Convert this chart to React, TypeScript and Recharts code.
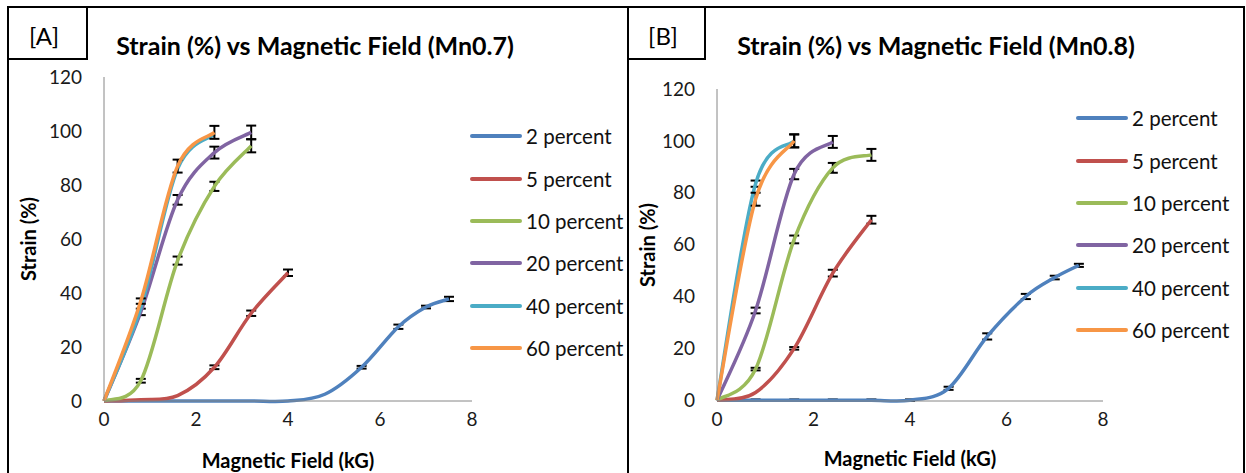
import { LineChart, Line, XAxis, YAxis, ErrorBar, Legend } from 'recharts';

// field steps (kG) shared by the measurements
const fieldSteps = [0, 0.8, 1.6, 2.4, 3.2, 4.0, 4.8, 5.6, 6.4, 7.0, 7.5];

const seriesNames = ['2 percent', '5 percent', '10 percent', '20 percent', '40 percent', '60 percent'];
const seriesColors = ['#4F81BD', '#C0504D', '#9BBB59', '#8064A2', '#4BACC6', '#F79646'];

// Mn0.7 strain values (%) and error half-widths, null = no bar drawn
const mn07Strain = [
  [0, 0, 0, 0, 0, 0, 2.5, 12.5, 27.5, 34.8, 37.8],
  [0, 0.5, 2, 12.5, 32.5, 47.5],
  [0, 7.5, 52, 79.5, 94.5],
  [0, 33, 74.5, 92, 99.5],
  [0, 34.5, 86, 98.8],
  [0, 37, 87, 99.5],
];
const mn07Err = [
  [null, null, null, null, null, null, null, 0.5, 0.8, 0.5, 0.8],
  [null, null, null, 0.7, 1, 1.2],
  [null, 0.7, 1.5, 1.7, 2.4],
  [null, 1.2, 1.8, 2.2, 2.5],
  [null, null, null, null],
  [null, 1, 2.4, 2.4],
];

// Mn0.8
const mn08Strain = [
  [0, 0, 0, 0, 0, 0, 4.6, 24.6, 40, 47.3, 52],
  [0, 3, 20, 49, 69.6],
  [0, 12, 62, 89.6, 94.6],
  [0, 34.6, 87.2, 99.6],
  [0, 83.5, 100],
  [0, 77.5, 100],
];
const mn08Err = [
  [null, 0.3, 0.3, 0.3, 0.3, 0.3, 0.6, 1.2, 1, 0.7, 0.6],
  [null, null, 0.5, 1.3, 1.5],
  [null, 0.5, 1.5, 1.9, 2.3],
  [null, 1.1, 2, 2.3],
  [null, 1.2, 2.5],
  [null, 2.5, 2.5],
];

const yTicks = [0, 20, 40, 60, 80, 100, 120];
const xTicks = [0, 2, 4, 6, 8];

// Excel-like smoothed line (Catmull-Rom through the points)
function excelCurve(context: any) {
  let pts: number[][] = [];
  return {
    areaStart() {},
    areaEnd() {},
    lineStart() {
      pts = [];
    },
    point(x: number, y: number) {
      pts.push([+x, +y]);
    },
    lineEnd() {
      if (!pts.length) return;
      context.moveTo(pts[0][0], pts[0][1]);
      for (let i = 0; i < pts.length - 1; i++) {
        const p0 = pts[i - 1] || pts[i];
        const p1 = pts[i];
        const p2 = pts[i + 1];
        const p3 = pts[i + 2] || p2;
        context.bezierCurveTo(
          p1[0] + (p2[0] - p0[0]) / 6,
          p1[1] + (p2[1] - p0[1]) / 6,
          p2[0] - (p3[0] - p1[0]) / 6,
          p2[1] - (p3[1] - p1[1]) / 6,
          p2[0],
          p2[1]
        );
      }
    },
  };
}

const FONT = 'Lato, "Open Sans", sans-serif';

function buildSeries(strain: number[][], err: (number | null)[][]) {
  return strain.map((vals, i) => ({
    name: seriesNames[i],
    color: seriesColors[i],
    data: vals.map((v, j) => ({ x: fieldSteps[j], y: v, err: err[i][j] })),
  }));
}

// keep the legend in series order, not sorted by name
function LegendRows({ payload }: any) {
  const items = [...(payload || [])].sort(
    (a: any, b: any) => seriesNames.indexOf(a.value) - seriesNames.indexOf(b.value)
  );
  return (
    <div>
      {items.map((p: any) => (
        <div key={p.value} style={{ height: 42.4, display: 'flex', alignItems: 'center' }}>
          <div style={{ width: 52, height: 4, borderRadius: 2, background: p.color, marginRight: 4 }} />
          <span style={{ fontFamily: FONT, fontSize: 20.5, color: '#111' }}>{p.value}</span>
        </div>
      ))}
    </div>
  );
}

interface PanelProps {
  left: number;
  width: number;
  top: number;
  marginLeft: number;
  marginRight: number;
  legendLeft: number;
  legendTop: number;
  strain: number[][];
  err: (number | null)[][];
}

function Panel({ left, width, top, marginLeft, marginRight, legendLeft, legendTop, strain, err }: PanelProps) {
  const series = buildSeries(strain, err);
  return (
    <div style={{ position: 'absolute', left, top: 0 }}>
      <LineChart width={width} height={473} margin={{ top, right: marginRight, bottom: 42, left: marginLeft }}>
        <XAxis
          type="number"
          dataKey="x"
          domain={[0, 8]}
          ticks={xTicks}
          tickLine={false}
          tickSize={0}
          tickMargin={12}
          height={30}
          stroke="#868686"
          tick={{ fill: '#1a1a1a', fontSize: 19, fontFamily: FONT }}
          allowDuplicatedCategory={false}
        />
        <YAxis
          type="number"
          domain={[0, 120]}
          ticks={yTicks}
          width={60}
          tickLine={false}
          tickSize={0}
          tickMargin={22}
          stroke="#868686"
          tick={{ fill: '#1a1a1a', fontSize: 19, fontFamily: FONT }}
        />
        <Legend
          layout="vertical"
          align="center"
          verticalAlign="middle"
          content={<LegendRows />}
          wrapperStyle={{ left: legendLeft, top: legendTop, width: 180 }}
        />
        {series.map((s) => (
          <Line
            key={s.name}
            data={s.data}
            dataKey="y"
            name={s.name}
            stroke={s.color}
            strokeWidth={3.5}
            type={excelCurve as any}
            dot={false}
            activeDot={false}
            isAnimationActive={false}
          >
            <ErrorBar dataKey="err" direction="y" width={5} stroke="#000" strokeWidth={2} isAnimationActive={false} />
          </Line>
        ))}
      </LineChart>
    </div>
  );
}

const titleStyle = {
  position: 'absolute' as const,
  fontFamily: FONT,
  fontWeight: 700,
  fontSize: 25,
  color: '#000',
  transform: 'translate(-50%, -50%)',
  whiteSpace: 'nowrap' as const,
};

const axisTitleStyle = {
  position: 'absolute' as const,
  fontFamily: FONT,
  fontWeight: 700,
  fontSize: 20,
  color: '#000',
  whiteSpace: 'nowrap' as const,
};

export default function App() {
  return (
    <div style={{ position: 'absolute', left: 0, top: 0, width: 1246, height: 473, background: '#fff', overflow: 'hidden' }}>
      {/* frame */}
      <div style={{ position: 'absolute', left: 7, top: 6, width: 1238, height: 520, border: '2px solid #000', boxSizing: 'border-box' }} />
      <div style={{ position: 'absolute', left: 627, top: 6, width: 2, height: 520, background: '#000' }} />
      <div style={{ position: 'absolute', left: 7, top: 6, width: 81, height: 54, border: '2px solid #000', boxSizing: 'border-box' }} />
      <div style={{ position: 'absolute', left: 627, top: 6, width: 79, height: 54, border: '2px solid #000', boxSizing: 'border-box' }} />

      <div style={{ ...titleStyle, left: 44, top: 35, fontWeight: 400, fontSize: 24 }}>[A]</div>
      <div style={{ ...titleStyle, left: 663, top: 35, fontWeight: 400, fontSize: 24 }}>[B]</div>
      <div style={{ ...titleStyle, left: 315, top: 45 }}>Strain (%) vs Magnetic Field (Mn0.7)</div>
      <div style={{ ...titleStyle, left: 936, top: 45 }}>Strain (%) vs Magnetic Field (Mn0.8)</div>

      <Panel left={9} width={618} top={77} marginLeft={35} marginRight={155} legendLeft={461} legendTop={115} strain={mn07Strain} err={mn07Err} />
      <Panel left={629} width={615} top={89} marginLeft={28} marginRight={141} legendLeft={447} legendTop={97} strain={mn08Strain} err={mn08Err} />

      <div style={{ ...axisTitleStyle, left: 28, top: 239, transform: 'translate(-50%, -50%) rotate(-90deg)' }}>Strain (%)</div>
      <div style={{ ...axisTitleStyle, left: 647, top: 245, transform: 'translate(-50%, -50%) rotate(-90deg)' }}>Strain (%)</div>
      <div style={{ ...axisTitleStyle, left: 288, top: 460, transform: 'translate(-50%, -50%)' }}>Magnetic Field (kG)</div>
      <div style={{ ...axisTitleStyle, left: 910, top: 458, transform: 'translate(-50%, -50%)' }}>Magnetic Field (kG)</div>
    </div>
  );
}
